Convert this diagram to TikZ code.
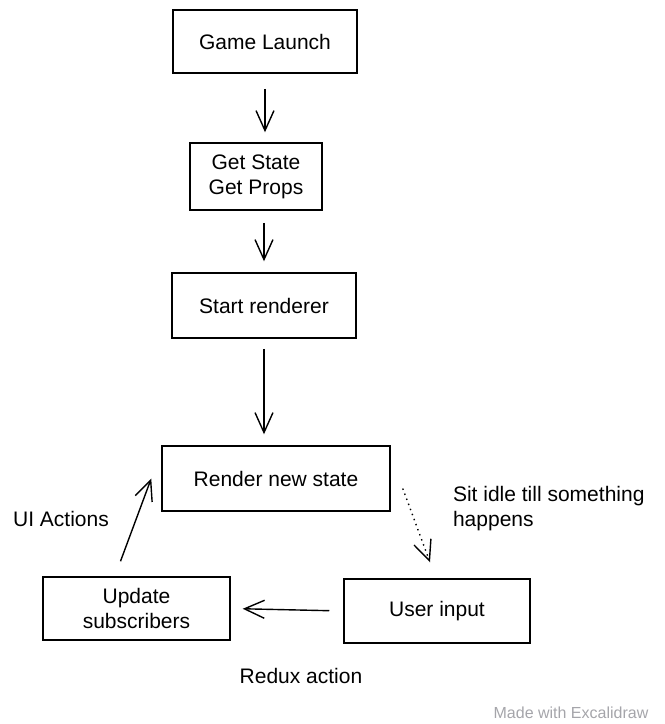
\documentclass[tikz,border=0pt]{standalone}
\usepackage{fontspec}
\setmainfont{Liberation Sans}
\usetikzlibrary{arrows.meta}
\definecolor{markgray}{RGB}{165, 165, 170}

\begin{document}
\begin{tikzpicture}[x=0.5pt, y=-0.5pt,
    stepbox/.style={draw, line width=0.75pt, rectangle, font=\fontsize{10.5}{12.5}\selectfont, align=center, inner sep=0pt},
    flow/.style={-{Straight Barb[length=10pt, width=9pt]}, line width=0.7pt},
    note/.style={font=\fontsize{10.5}{12.5}\selectfont}]
    \useasboundingbox (0,0) rectangle (665,724);
    \node[stepbox, minimum width=92pt, minimum height=31.5pt] (launch) at (265,41.5) {Game Launch};
    \node[stepbox, minimum width=66pt, minimum height=33.5pt] (getstate) at (256,176.5) {Get State\\Get Props};
    \node[stepbox, minimum width=92pt, minimum height=32.5pt] (renderer) at (264,305.5) {Start renderer};
    \node[stepbox, minimum width=114pt, minimum height=32.5pt] (render) at (276,478.5) {Render new state};
    \node[stepbox, minimum width=93.5pt, minimum height=31.5pt] (update) at (136.5,608.5) {Update\\subscribers};
    \node[stepbox, minimum width=93pt, minimum height=32pt] (input) at (437,611) {User input};
    % connectors
    \draw[flow, shorten <=7.5pt, shorten >=5pt] (launch.south) -- (launch.south |- getstate.north);
    \draw[flow, shorten <=6pt, shorten >=5.5pt] (renderer.north |- getstate.south) -- (renderer.north);
    \draw[flow, shorten <=5pt, shorten >=5.5pt] (renderer.south) -- (renderer.south |- render.north);
    \draw[flow, dotted] ([xshift=6pt, yshift=-5pt]render.east) -- ([xshift=-3.5pt, yshift=8pt]input.north);
    \draw[flow, shorten <=7pt, shorten >=6pt] (input.west) -- (update.east);
    \draw[flow] ([xshift=-8pt, yshift=7.5pt]update.north) -- ([xshift=-5pt]render.west);
    % labels
    \node[note, anchor=west, align=left] (idle) at (446,509) {Sit idle till something\\happens};
    \node[note] (uiact) at (61,519) {UI Actions};
    \node[note] (redux) at (301,676) {Redux action};
    \node[font=\fontsize{8}{10}\selectfont, text=markgray] (made) at (571,713) {Made with Excalidraw};
\end{tikzpicture}
\end{document}
